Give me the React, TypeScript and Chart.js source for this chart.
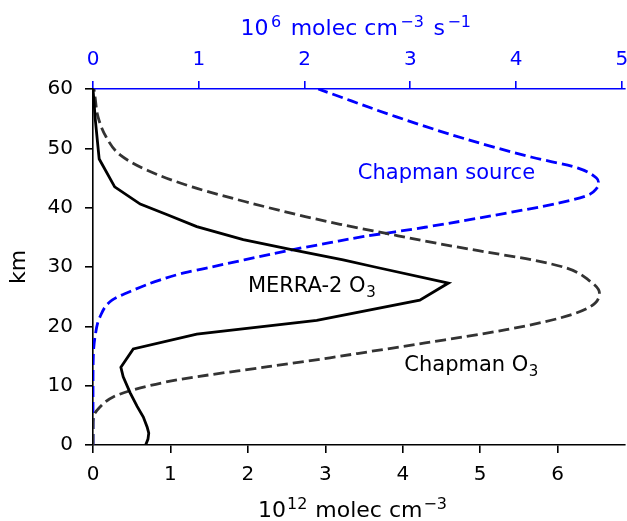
import React, { useEffect, useRef } from 'react';
import { Chart, registerables } from 'chart.js';

Chart.register(...registerables);

const FONT = '"DejaVu Sans", sans-serif';

// MERRA-2 O3 profile (10^12 molec cm^-3 vs km)
const merraKm = [0, 1, 2, 3, 4.7, 6.5, 8.8, 11.5, 13.1, 16.2, 18.7, 21.0, 24.4, 27.3, 30.0, 31.2, 32.9, 34.6, 36.8, 38.8, 40.6, 43.5, 48.2, 54.8, 60];
const merraO3 = [0.68, 0.71, 0.72, 0.7, 0.65, 0.57, 0.48, 0.39, 0.36, 0.52, 1.34, 2.89, 4.22, 4.59, 3.64, 3.23, 2.58, 1.94, 1.34, 0.96, 0.61, 0.28, 0.08, 0.03, 0.0];

// Chapman O3 profile (10^12 molec cm^-3 vs km)
const chapO3Km = [0, 3, 4.7, 6.4, 8.1, 9.3, 11, 13.2, 14.7, 15.8, 17.2, 19.4, 21.4, 23.3, 25.6, 27.8, 29.8, 31.2, 32.5, 34, 35.7, 37.2, 38.5, 40.8, 43.5, 46.3, 48.9, 51.9, 55.3, 58.7, 60];
const chapO3 = [0, 0, 0.006, 0.09, 0.26, 0.52, 1.1, 2.26, 3.06, 3.6, 4.29, 5.32, 6.03, 6.42, 6.54, 6.4, 6.12, 5.67, 5.09, 4.44, 3.77, 3.19, 2.74, 2.03, 1.28, 0.7, 0.35, 0.17, 0.065, 0.026, 0.013];

// Chapman source (10^6 molec cm^-3 s^-1 vs km)
const srcKm = [0, 10, 15, 18.2, 21.6, 24.4, 26.1, 27.8, 29, 30, 31.2, 32.9, 34.1, 35.1, 36.7, 38.8, 40.8, 42.1, 43.2, 44.2, 45, 46.7, 48.5, 51.7, 55.3, 59.3, 60];
const srcVal = [0, 0, 0.003, 0.019, 0.066, 0.18, 0.38, 0.63, 0.86, 1.12, 1.43, 1.88, 2.24, 2.55, 3.14, 3.82, 4.41, 4.68, 4.76, 4.78, 4.76, 4.58, 4.15, 3.5, 2.87, 2.24, 2.13];

const bottomTicks = [0, 1, 2, 3, 4, 5, 6];
const topTicks = [0, 1, 2, 3, 4, 5];
const yTicks = [0, 10, 20, 30, 40, 50, 60];

const annotations = [
  { text: 'Chapman source', sub: '', x: 3.42, y: 46.2, color: '#0000ff' },
  { text: 'MERRA-2 O', sub: '3', x: 2.0, y: 27.0, color: '#000000' },
  { text: 'Chapman O', sub: '3', x: 4.02, y: 13.7, color: '#000000' },
];

// axis titles as [text, isSuperscript] pieces
const bottomTitle: [string, boolean][] = [['10', false], ['12', true], [' molec cm', false], ['−3', true]];
const topTitle: [string, boolean][] = [['10', false], ['6', true], [' molec cm', false], ['−3', true], [' s', false], ['−1', true]];
const leftTitle = 'km';

const ANN_SIZE = 21;
const TITLE_SIZE = 22;
const SUP_SIZE = 16;

function drawPieces(ctx: CanvasRenderingContext2D, pieces: [string, boolean][], cx: number, base: number, color: string, supPad: number) {
  let total = 0;
  const widths: number[] = [];
  for (const [t, sup] of pieces) {
    ctx.font = `${sup ? SUP_SIZE : TITLE_SIZE}px ${FONT}`;
    const w = ctx.measureText(t).width + (sup ? supPad : 0);
    widths.push(w);
    total += w;
  }
  let x = cx - total / 2;
  ctx.fillStyle = color;
  ctx.textAlign = 'left';
  ctx.textBaseline = 'alphabetic';
  pieces.forEach(([t, sup], i) => {
    ctx.font = `${sup ? SUP_SIZE : TITLE_SIZE}px ${FONT}`;
    ctx.fillText(t, x + (sup ? supPad / 2 : 0), sup ? base - 8 : base);
    x += widths[i];
  });
}

const labelPlugin = {
  id: 'textLabels',
  afterDatasetsDraw(chart: any) {
    const { ctx, scales } = chart;
    ctx.save();
    for (const a of annotations) {
      const px = scales.x.getPixelForValue(a.x);
      const py = scales.y.getPixelForValue(a.y);
      ctx.font = `${ANN_SIZE}px ${FONT}`;
      ctx.fillStyle = a.color;
      ctx.textAlign = 'left';
      ctx.textBaseline = 'alphabetic';
      const base = py + (ANN_SIZE * 0.729) / 2;
      ctx.fillText(a.text, px, base);
      if (a.sub) {
        const w = ctx.measureText(a.text).width;
        ctx.font = `${Math.round(ANN_SIZE * 0.7)}px ${FONT}`;
        ctx.fillText(a.sub, px + w + 0.5, base + ANN_SIZE * 0.22);
      }
    }
    ctx.restore();
  },
  afterDraw(chart: any) {
    const { ctx, chartArea } = chart;
    ctx.save();
    const cx = (chartArea.left + chartArea.right) / 2;
    drawPieces(ctx, bottomTitle, cx - 6, chart.height - 4, '#000000', 2);
    drawPieces(ctx, topTitle, cx - 2, 35, '#0000ff', 5);
    ctx.translate(25, (chartArea.top + chartArea.bottom) / 2);
    ctx.rotate(-Math.PI / 2);
    ctx.font = `${TITLE_SIZE}px ${FONT}`;
    ctx.fillStyle = '#000000';
    ctx.textAlign = 'center';
    ctx.textBaseline = 'alphabetic';
    ctx.fillText(leftTitle, 0, 0);
    ctx.restore();
  },
};

const toPts = (xs: number[], ys: number[]) => xs.map((v, i) => ({ x: v, y: ys[i] }));

const noPad = (s: any) => { s.paddingLeft = 0; s.paddingRight = 0; s.paddingTop = 0; s.paddingBottom = 0; };

export default function App() {
  const ref = useRef<HTMLCanvasElement | null>(null);
  useEffect(() => {
    if (!ref.current) return;
    const black = '#000000';
    const blue = '#0000ff';
    const chart = new Chart(ref.current, {
      type: 'line',
      data: {
        datasets: [
          {
            label: 'MERRA-2 O3',
            data: toPts(merraO3, merraKm),
            xAxisID: 'x',
            yAxisID: 'y',
            borderColor: black,
            borderWidth: 2.8,
            pointRadius: 0,
            tension: 0,
            fill: false,
          },
          {
            label: 'Chapman O3',
            data: toPts(chapO3, chapO3Km),
            xAxisID: 'x',
            yAxisID: 'y',
            borderColor: '#333333',
            borderWidth: 2.8,
            borderDash: [11, 5],
            pointRadius: 0,
            cubicInterpolationMode: 'monotone',
            fill: false,
          },
          {
            label: 'Chapman source',
            data: toPts(srcVal, srcKm),
            xAxisID: 'x2',
            yAxisID: 'y',
            borderColor: blue,
            borderWidth: 2.8,
            borderDash: [11, 5],
            pointRadius: 0,
            cubicInterpolationMode: 'monotone',
            fill: false,
          },
        ],
      },
      options: {
        indexAxis: 'y',
        animation: false,
        responsive: false,
        maintainAspectRatio: false,
        layout: { padding: { left: 0, right: 2, top: 0, bottom: 0 } },
        plugins: { legend: { display: false }, tooltip: { enabled: false } },
        scales: {
          x: {
            type: 'linear',
            position: 'bottom',
            min: 0,
            max: 6.87,
            afterBuildTicks: (s: any) => { s.ticks = bottomTicks.map((v) => ({ value: v })); },
            afterFit: (s: any) => { s.height = 76; noPad(s); },
            ticks: { color: black, font: { size: 20, family: FONT }, padding: 10, maxRotation: 0, autoSkip: false },
            grid: { drawOnChartArea: false, drawTicks: true, tickLength: 8, color: black, lineWidth: 1.6 },
            border: { color: black, width: 1.6 },
            title: { display: false, text: '10¹² molec cm⁻³' },
          },
          x2: {
            type: 'linear',
            position: 'top',
            min: 0,
            max: 5.03,
            afterBuildTicks: (s: any) => { s.ticks = topTicks.map((v) => ({ value: v })); },
            afterFit: (s: any) => { s.height = 89; noPad(s); },
            ticks: { color: blue, font: { size: 20, family: FONT }, padding: 9, maxRotation: 0, autoSkip: false },
            grid: { drawOnChartArea: false, drawTicks: true, tickLength: 8, color: blue, lineWidth: 1.6 },
            border: { color: blue, width: 1.6 },
            title: { display: false, text: '10⁶ molec cm⁻³ s⁻¹' },
          },
          y: {
            type: 'linear',
            position: 'left',
            min: 0,
            max: 60,
            afterBuildTicks: (s: any) => { s.ticks = yTicks.map((v) => ({ value: v })); },
            afterFit: (s: any) => { s.width = 93; noPad(s); },
            ticks: { color: black, font: { size: 20, family: FONT }, padding: 12, autoSkip: false },
            grid: { drawOnChartArea: false, drawTicks: true, tickLength: 8, color: black, lineWidth: 1.6 },
            border: { color: black, width: 1.6 },
            title: { display: false, text: 'km' },
          },
        },
      },
      plugins: [labelPlugin],
    } as any);
    return () => chart.destroy();
  }, []);

  return (
    <div style={{ position: 'absolute', left: 0, top: 0, width: 627, height: 521, background: '#ffffff' }}>
      <canvas ref={ref} width={627} height={521} style={{ width: 627, height: 521, display: 'block' }} />
    </div>
  );
}
